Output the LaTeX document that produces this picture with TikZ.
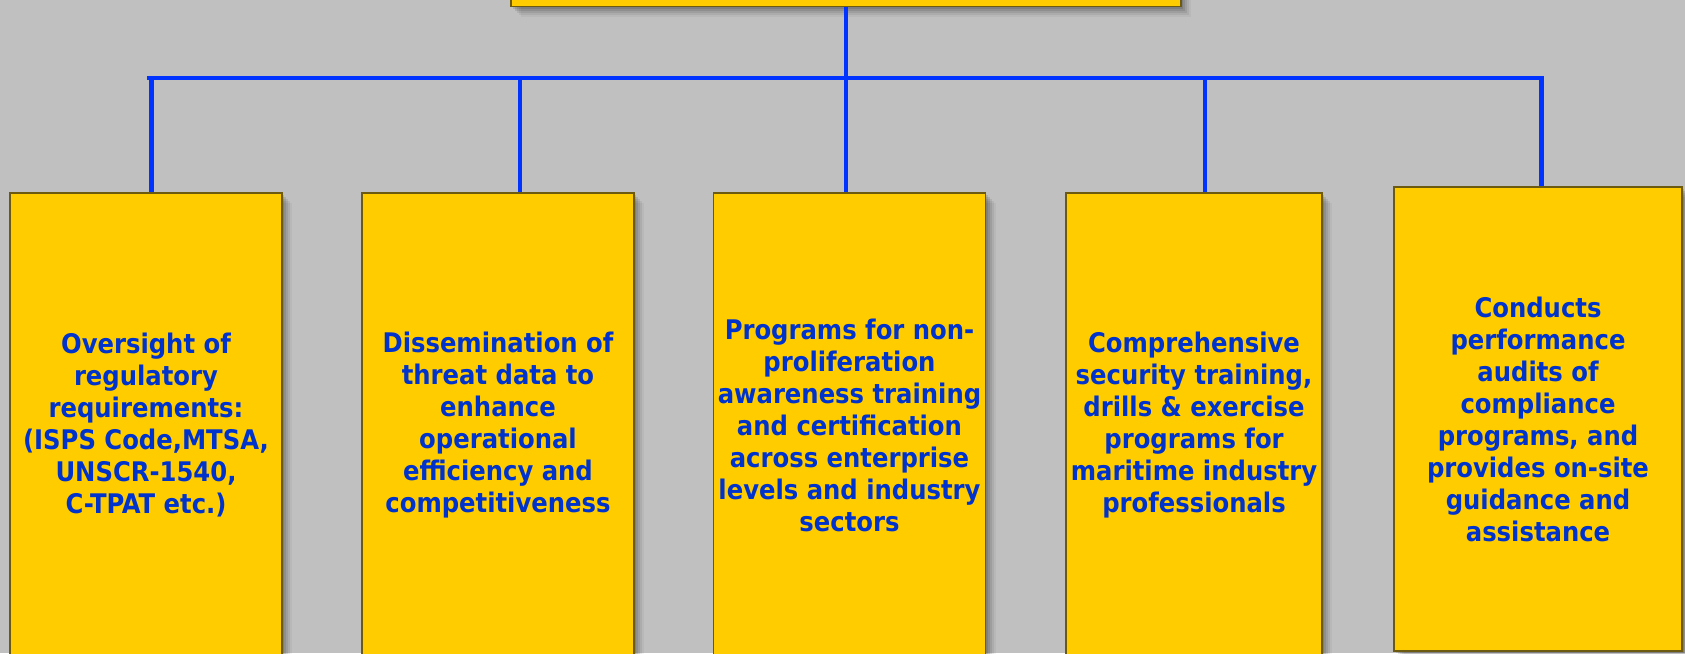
\documentclass[tikz,border=0pt]{standalone}
\usepackage{fontspec}
\newfontfamily\boxfont{DejaVu Sans Condensed Bold}
\usetikzlibrary{shadows}
\definecolor{bg}{HTML}{C0C0C0}
\definecolor{boxfill}{HTML}{FFCC00}
\definecolor{boxline}{HTML}{6B5A10}
\definecolor{txtblue}{HTML}{0033CC}
\definecolor{linkblue}{HTML}{0033FF}
\tikzset{
  softshadow/.style={
    general shadow={shadow xshift=2pt,shadow yshift=-2pt,fill=black,opacity=0.10},
    general shadow={shadow xshift=4pt,shadow yshift=-4pt,fill=black,opacity=0.10},
    general shadow={shadow xshift=6pt,shadow yshift=-6pt,fill=black,opacity=0.08},
    general shadow={shadow xshift=8pt,shadow yshift=-8pt,fill=black,opacity=0.06},
    general shadow={shadow xshift=10pt,shadow yshift=-10pt,fill=black,opacity=0.04}},
  ybox/.style={draw=boxline,line width=1.2pt,fill=boxfill,softshadow,
    inner sep=0pt,align=center,text=txtblue,
    font=\boxfont\fontsize{27}{32}\selectfont},
  link/.style={draw=linkblue,line width=4.6pt}
}
\begin{document}
\begin{tikzpicture}[x=1pt,y=-1pt]
\fill[bg] (0,0) rectangle (1685,653);
\useasboundingbox (0,0) rectangle (1685,653);

\node[ybox,minimum width=670pt,minimum height=67pt] (top) at (846,-26.8) {};

\node[ybox,minimum width=272pt,minimum height=465pt] (b1) at (146,425.5)
  {Oversight of\\regulatory\\requirements:\\(ISPS Code,MTSA,\\UNSCR-1540,\\C-TPAT etc.)};
\node[ybox,minimum width=272pt,minimum height=465pt] (b2) at (498,425.5)
  {Dissemination of\\threat data to\\enhance\\operational\\efficiency and\\competitiveness};
\node[ybox,minimum width=272pt,minimum height=465pt] (b3) at (849.5,425.5)
  {Programs for non-\\proliferation\\awareness training\\and certification\\across enterprise\\levels and industry\\sectors};
\node[ybox,minimum width=256pt,minimum height=465pt] (b4) at (1194,425.5)
  {Comprehensive\\security training,\\drills \& exercise\\programs for\\maritime industry\\professionals};
\node[ybox,minimum width=288pt,minimum height=464pt] (b5) at (1538,419)
  {Conducts\\performance\\audits of\\compliance\\programs, and\\provides on-site\\guidance and\\assistance};

\coordinate (busL) at (147,78);
\coordinate (busR) at (1544,78);
\coordinate (d1) at (151.5,78);
\coordinate (d2) at (520,78);
\coordinate (d3) at (846,78);
\coordinate (d4) at (1205,78);
\coordinate (d5) at (1541.5,78);

\draw[link] (busL) -- (busR);
\draw[link] (top.south) -- (top.south |- busL);
\draw[link] (d1) -- (d1 |- b1.north);
\draw[link] (d2) -- (d2 |- b2.north);
\draw[link] (d3) -- (d3 |- b3.north);
\draw[link] (d4) -- (d4 |- b4.north);
\draw[link] (d5) -- (d5 |- b5.north);
\end{tikzpicture}
\end{document}
